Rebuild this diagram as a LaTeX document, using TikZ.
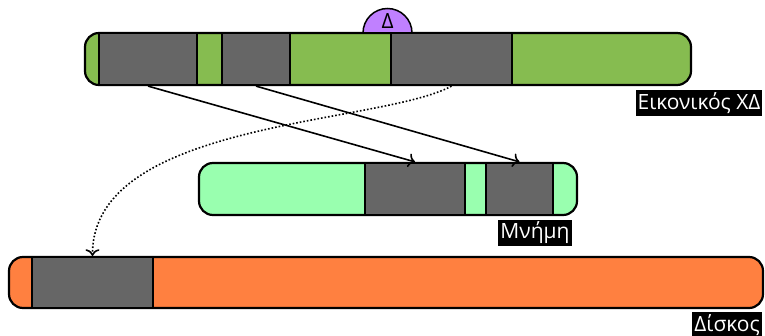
\documentclass[tikz,border=0pt]{standalone}
\usepackage{fontspec}
\setmainfont{Open Sans}
\usetikzlibrary{arrows.meta}
\definecolor{vgreen}{HTML}{86BC50}
\definecolor{mgreen}{HTML}{99FFAF}
\definecolor{dorange}{HTML}{FF8040}
\definecolor{blockgray}{HTML}{666666}
\definecolor{dpurple}{HTML}{C080FF}
\tikzset{
  bar/.style={draw, line width=2.2pt, rounded corners=14pt, inner sep=0pt},
  block/.style={draw, line width=2.2pt, fill=blockgray, inner sep=0pt, minimum height=52pt},
  tag/.style={fill=black, text=white, inner sep=2pt, font=\fontsize{21}{23}\selectfont},
}
\begin{document}
\begin{tikzpicture}[x=1pt, y=-1pt, >={To[scale=1.3]}]
    \useasboundingbox (0,0) rectangle (765,336);
    % bars
    \node[bar, fill=vgreen, minimum width=606pt, minimum height=52pt] (xd) at (388,59) {};
    \node[bar, fill=mgreen, minimum width=378pt, minimum height=52pt] (mem) at (388,189) {};
    \node[bar, fill=dorange, minimum width=754pt, minimum height=51pt] (disk) at (386,282.5) {};
    % blocks
    \foreach \n/\x/\y/\w in {a/148/59/98, b/256/59/68, c/451.5/59/121, m1/415/189/100, m2/519.5/189/67}
    {
        \node[block, minimum width=\w pt] (\n) at (\x,\y) {};
    }
    \node[block, minimum width=121pt, minimum height=51pt] (d) at (92.5,282.5) {};
    % delta
    \draw[line width=1.5pt, fill=dpurple] (363,33) arc (180:360:24.5) -- cycle;
    \node[font=\fontsize{21}{23}\selectfont, inner sep=0pt] (delta) at (387.5,21) {Δ};
    % labels
    \node[tag] (lxd) at (699,103) {Εικονικός ΧΔ};
    \node[tag] (lmem) at (535,233) {Μνήμη};
    \node[tag] (ldisk) at (727,325) {Δίσκος};
    % arrows
    \draw[->, line width=1.6pt] (a.south) -- (m1.north);
    \draw[->, line width=1.6pt] (b.south) -- (m2.north);
    \draw[->, line width=1.6pt, dotted] (c.south) .. controls (380,125) and (92,120) .. (d.north);
\end{tikzpicture}
\end{document}
